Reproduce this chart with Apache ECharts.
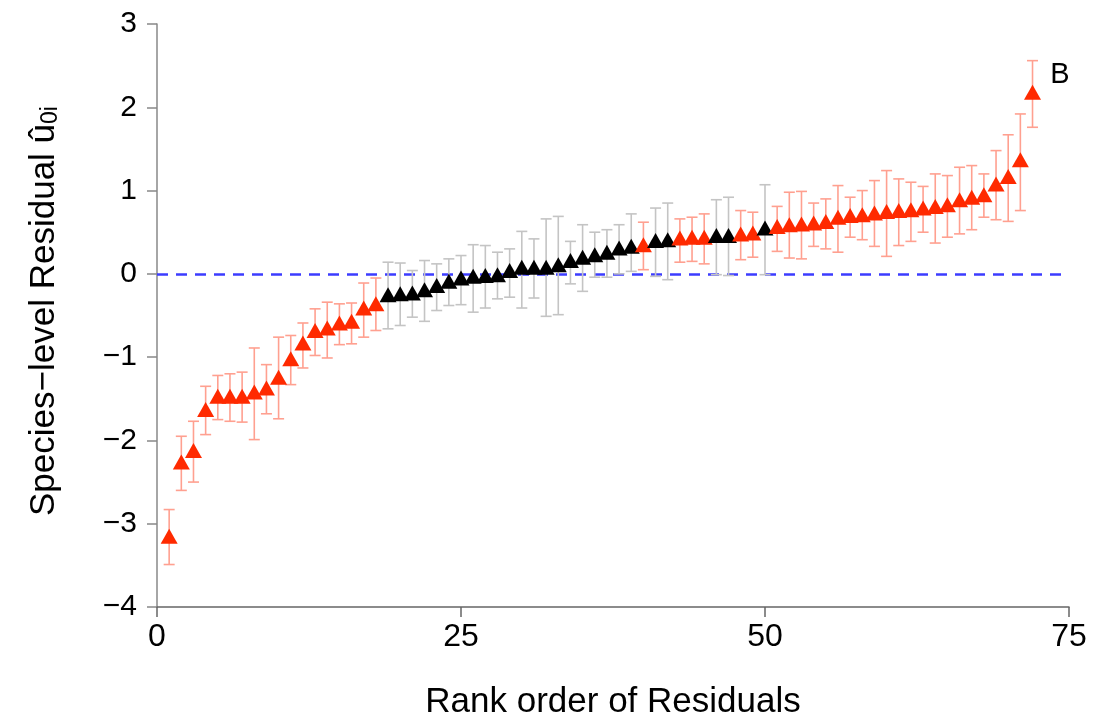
<!DOCTYPE html>
<html>
<head>
<meta charset="utf-8">
<script src="https://cdn.jsdelivr.net/npm/echarts@6/dist/echarts.min.js"></script>
<style>html,body{margin:0;padding:0;background:#fff}#c{width:1094px;height:725px}</style>
</head>
<body>
<div id="c"></div>
<script>
// Species-level residuals in rank order
const residual = [-3.15,-2.26,-2.12,-1.63,-1.47,-1.47,-1.47,-1.42,-1.37,-1.24,-1.02,-0.83,-0.68,-0.65,-0.59,-0.57,-0.41,-0.36,
  -0.25,-0.24,-0.23,-0.19,-0.14,-0.09,-0.05,-0.03,-0.02,-0.01,0.04,0.08,0.08,0.08,0.11,0.16,0.20,0.23,0.26,0.31,0.33,0.35,
  0.40,0.41,0.43,0.44,0.44,0.46,0.46,0.48,0.49,0.55,0.57,0.59,0.60,0.61,0.63,0.68,0.70,0.71,0.73,0.75,0.76,0.77,0.79,0.81,
  0.83,0.89,0.92,0.95,1.08,1.17,1.37,2.18];
const lower = [-3.49,-2.60,-2.50,-1.93,-1.75,-1.77,-1.78,-1.99,-1.68,-1.74,-1.33,-1.13,-0.98,-1.01,-0.85,-0.84,-0.76,-0.68,
  -0.66,-0.62,-0.52,-0.57,-0.44,-0.38,-0.37,-0.46,-0.41,-0.30,-0.28,-0.41,-0.29,-0.51,-0.49,-0.12,-0.21,-0.04,-0.04,0.00,0.03,0.05,
  -0.03,-0.07,0.14,0.15,0.12,-0.01,-0.02,0.17,0.20,-0.01,0.27,0.19,0.18,0.33,0.30,0.26,0.44,0.41,0.33,0.21,0.34,0.39,0.50,0.37,
  0.44,0.48,0.53,0.68,0.65,0.63,0.76,1.76];
const upper = [-2.83,-1.95,-1.77,-1.35,-1.22,-1.20,-1.18,-0.89,-1.09,-0.76,-0.74,-0.59,-0.42,-0.34,-0.36,-0.35,-0.11,-0.05,
  0.14,0.13,0.04,0.16,0.12,0.18,0.22,0.35,0.34,0.26,0.30,0.51,0.42,0.66,0.69,0.39,0.59,0.50,0.53,0.59,0.72,0.62,
  0.79,0.85,0.66,0.68,0.72,0.89,0.92,0.76,0.74,1.07,0.81,0.98,0.99,0.85,0.90,1.06,0.92,1.00,1.12,1.24,1.14,1.10,1.05,1.20,
  1.18,1.28,1.30,1.20,1.48,1.67,1.92,2.56];
// 1 = interval excludes zero (red), 0 = overlaps zero (black)
const significant = [1,1,1,1,1,1,1,1,1,1,1,1,1,1,1,1,1,1,
  0,0,0,0,0,0,0,0,0,0,0,0,0,0,0,0,0,0,0,0,0,1,
  0,0,1,1,1,0,0,1,1,0,1,1,1,1,1,1,1,1,1,1,1,1,1,1,
  1,1,1,1,1,1,1,1];
const xTicks = [0, 25, 50, 75];
const yTicks = [-4, -3, -2, -1, 0, 1, 2, 3];

const RED = '#ff2a00', BLACK = '#000000', RED_BAR = '#ffa090', GREY_BAR = '#c4c4c4';
const FONT = 'Liberation Sans, Arial, Helvetica, sans-serif';

const pts = residual.map((v, i) => [i + 1, v]);
const bars = residual.map((v, i) => [i + 1, lower[i], upper[i], significant[i]]);

const chart = echarts.init(document.getElementById('c'), null, {renderer: 'canvas'});
chart.setOption({
  animation: false,
  backgroundColor: '#ffffff',
  grid: {left: 157, right: 25, top: 24, bottom: 118, containLabel: false},
  xAxis: {
    type: 'value', min: xTicks[0], max: xTicks[xTicks.length - 1], interval: 25,
    name: 'Rank order of Residuals', nameLocation: 'middle', nameGap: 78,
    nameTextStyle: {fontFamily: FONT, fontSize: 35, color: '#000'},
    axisLine: {show: true, onZero: false, lineStyle: {color: '#666', width: 1.5}},
    axisTick: {show: true, length: 10, lineStyle: {color: '#666', width: 1.5}},
    axisLabel: {fontFamily: FONT, fontSize: 32, color: '#000', margin: 14},
    splitLine: {show: false}
  },
  yAxis: {
    type: 'value', min: yTicks[0], max: yTicks[yTicks.length - 1], interval: 1,
    axisLine: {show: true, onZero: false, lineStyle: {color: '#888', width: 1.5}},
    axisTick: {show: true, length: 10, lineStyle: {color: '#888', width: 1.5}},
    axisLabel: {fontFamily: FONT, fontSize: 30, color: '#000', margin: 20,
      formatter: v => String(v).replace('-', '\u2212')},
    splitLine: {show: false}
  },
  graphic: [
    {type: 'text', x: 44, y: 311, rotation: Math.PI / 2,
      style: {
        text: '{m|Species\u2212level Residual }{u|\u00fb}{s|0i}',
        textAlign: 'center', textVerticalAlign: 'middle',
        rich: {
          m: {fontFamily: FONT, fontSize: 35, fill: '#000'},
          u: {fontFamily: FONT, fontSize: 35, fill: '#000'},
          s: {fontFamily: FONT, fontSize: 23, fill: '#000', verticalAlign: 'bottom', padding: [14, 0, 0, 0]}
        }
      }
    },
    {type: 'text', x: 1060, y: 75,
      style: {text: 'B', fontFamily: FONT, fontSize: 29, fill: '#000', textAlign: 'center', textVerticalAlign: 'middle'}}
  ],
  series: [
    {
      type: 'custom', z: 2, silent: true,
      data: bars,
      encode: {x: 0, y: [1, 2]},
      renderItem: function (params, api) {
        const x = api.value(0);
        const lo = api.coord([x, api.value(1)]);
        const hi = api.coord([x, api.value(2)]);
        const col = api.value(3) === 1 ? RED_BAR : GREY_BAR;
        const w = 5.5;
        const st = {stroke: col, lineWidth: 1.6};
        return {type: 'group', children: [
          {type: 'line', shape: {x1: lo[0], y1: lo[1], x2: hi[0], y2: hi[1]}, style: st},
          {type: 'line', shape: {x1: lo[0] - w, y1: lo[1], x2: lo[0] + w, y2: lo[1]}, style: st},
          {type: 'line', shape: {x1: hi[0] - w, y1: hi[1], x2: hi[0] + w, y2: hi[1]}, style: st}
        ]};
      }
    },
    {
      type: 'scatter', z: 4, silent: true,
      data: pts,
      symbol: 'triangle', symbolSize: [17, 15],
      itemStyle: {color: p => significant[p.dataIndex] === 1 ? RED : BLACK, opacity: 1},
      markLine: {
        silent: true, symbol: 'none', z: 1,
        label: {show: false},
        lineStyle: {color: '#3c3cff', width: 2.5, type: [11, 8]},
        data: [{yAxis: 0}]
      }
    }
  ]
});
</script>
</body>
</html>
